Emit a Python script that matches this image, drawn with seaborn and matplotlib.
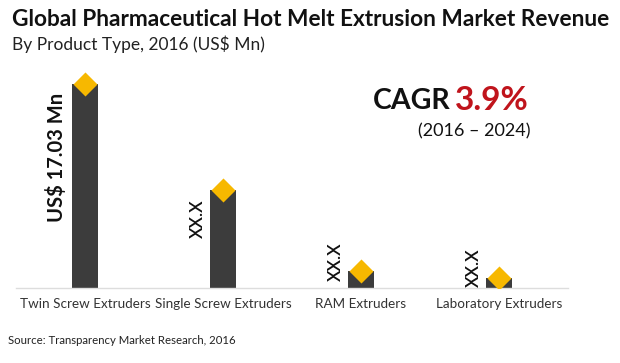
import matplotlib
matplotlib.use("Agg")
import matplotlib.pyplot as plt
import seaborn as sns
import pandas as pd

categories = ["Twin Screw Extruders", "Single Screw Extruders", "RAM Extruders", "Laboratory Extruders"]
values = [17.03, 8.2, 1.45, 0.8]
value_labels = ["US$ 17.03 Mn", "XX.X", "XX.X", "XX.X"]

sns.set_theme(style="white")
plt.rcParams['font.family'] = ['Lato', 'DejaVu Sans']

df = pd.DataFrame({"cat": categories, "val": values})

fig = plt.figure(figsize=(6.2, 3.63), dpi=100)
ax = fig.add_axes([16/620, 75/363, 552/620, 228/363])

sns.barplot(data=df, x="cat", y="val", ax=ax, color="#3c3c3c", width=0.19,
            saturation=1, edgecolor="none")
ax.scatter(range(len(values)), values, marker="D", s=150, color="#f7b800",
           zorder=5, linewidths=0)

ax.set_xlim(-0.5, 3.5)
ax.set_ylim(0, 19.0)
ax.set_xlabel("")
ax.set_ylabel("")
ax.set_yticks([])
for s in ["top", "right", "left"]:
    ax.spines[s].set_visible(False)
ax.spines["bottom"].set_color("#dddddd")
ax.spines["bottom"].set_linewidth(1.0)
ax.tick_params(axis="x", length=0, pad=7, labelsize=9.7, labelcolor="#333333")

# value labels (rotated)
label_y_offsets = [None, -2.4, 0.75, 0.87]
for i, (v, lab) in enumerate(zip(values, value_labels)):
    if i == 0:
        ax.text(i - 0.21, v * 0.64, lab, rotation=90, ha="center", va="center",
                fontsize=14.5, fontweight="bold", color="#111111")
    else:
        ax.text(i - 0.185, v + label_y_offsets[i], lab, rotation=90,
                ha="center", va="center", fontsize=12.5, fontweight="semibold",
                color="#111111")

fig.text(12/620, 1 - 20/363, "Global Pharmaceutical Hot Melt Extrusion Market Revenue",
         fontsize=16.3, fontweight="bold", color="#111111", ha="left", va="center")
fig.text(12/620, 1 - 44/363, "By Product Type, 2016 (US$ Mn)",
         fontsize=12.5, color="#222222", ha="left", va="center")

fig.text(450/620, 1 - 101/363, "CAGR", fontsize=20.5, fontweight="bold",
         color="#111111", ha="right", va="center")
fig.text(455/620, 1 - 100/363, "3.9%", fontsize=24, fontweight="bold",
         color="#c0141c", ha="left", va="center")
fig.text(530/620, 1 - 131/363, "(2016 \u2013 2024)", fontsize=13,
         color="#111111", ha="right", va="center")

fig.text(8/620, 1 - 341/363, "Source: Transparency Market Research, 2016",
         fontsize=8.2, color="#222222", ha="left", va="center")

fig.savefig("out.png", dpi=100)
